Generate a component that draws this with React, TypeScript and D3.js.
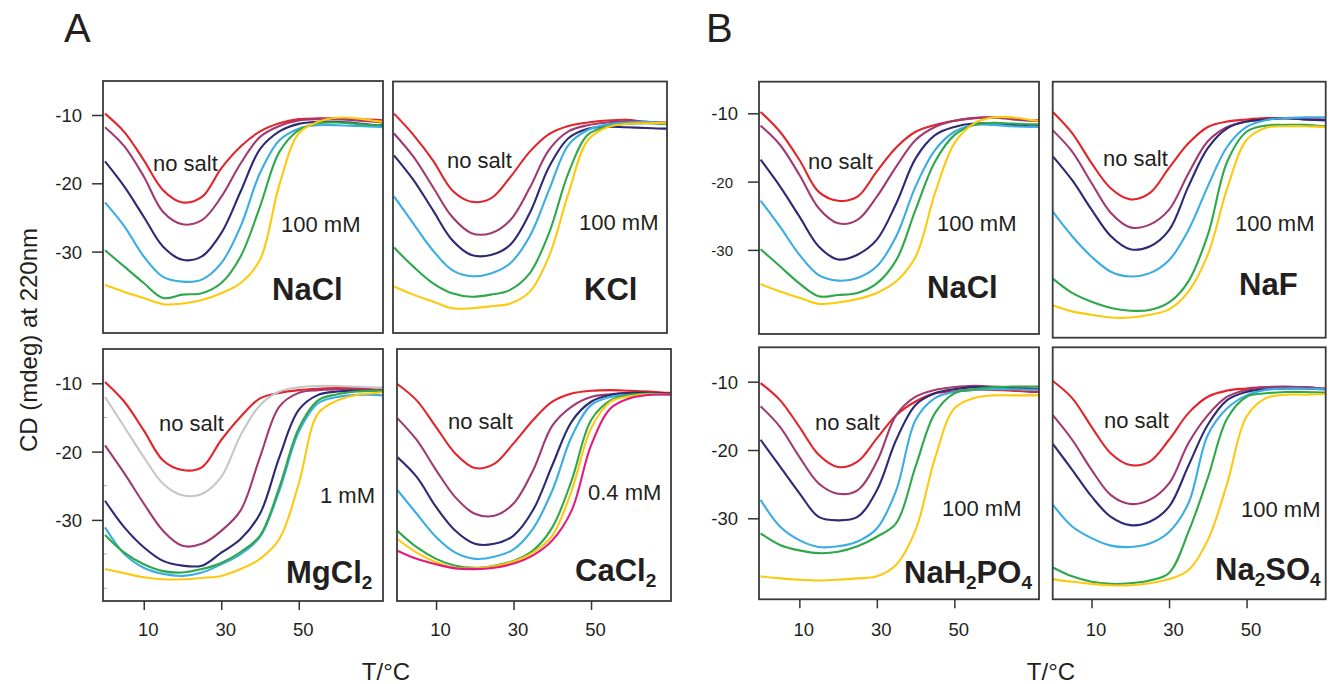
import * as d3 from "d3";
import React, { useRef, useEffect } from "react";

const mainWidth = 1330;
const mainHeight = 684;
const font = "'Liberation Sans', Arial, sans-serif";
const ink = "#231f20";

// px per degree and per mdeg, shared by all panels
const degPx = 3.875;
const unitPx = 6.83;

const temps = [0, 5, 10, 15, 20, 25, 30, 35, 40, 45, 50, 55, 60, 65, 70, 72];
const yTicks = [-10, -20, -30];
const xTicks = [10, 30, 50];
const minorTicks = [-15, -25, -35, -40];

const red = "#e2242b";
const purple = "#a23a72";
const navy = "#2d2a74";
const blue = "#3aade2";
const green = "#2ea84a";
const yellow = "#fdc90f";
const gray = "#c6c6c6";
const pink = "#e6197d";

const six = [red, purple, navy, blue, green, yellow];
const sevenMg = [red, gray, purple, navy, blue, green, yellow];
const sevenCa = [red, purple, navy, blue, green, yellow, pink];

// A: NaCl
const naclA = [
  [-9.8, -12.5, -16.6, -21, -22.8, -22, -17.8, -14.6, -12.4, -11.2, -10.6, -10.5, -10.5, -10.6, -10.7, -10.8],
  [-11.8, -14.6, -19, -24.2, -26, -25.4, -22, -17.1, -13.2, -11.6, -10.8, -10.6, -10.6, -10.8, -11, -11],
  [-16.8, -20.5, -24.9, -29.3, -31.2, -30.7, -27.3, -21.2, -15, -12.4, -11.3, -11, -11, -11.2, -11.5, -11.6],
  [-22.8, -26.3, -30.7, -33.7, -34.4, -34.1, -31.7, -26.3, -18.5, -13.7, -12, -11.5, -11.5, -11.6, -11.7, -11.8],
  [-29.8, -32.2, -34.6, -36.8, -36.3, -36.1, -34.6, -30.7, -23.4, -15.4, -12.2, -11.2, -11.1, -11.3, -11.5, -11.3],
  [-34.9, -35.9, -36.8, -37.7, -37.6, -37.1, -36.1, -34.6, -31.2, -20.2, -12.7, -11, -10.4, -10.5, -10.9, -11],
];

// A: KCl
const kclA = [
  [-9.8, -12.9, -16.6, -21, -22.7, -22.2, -19.1, -15.4, -12.8, -11.6, -11.1, -10.8, -10.7, -11, -11.2, -11.2],
  [-12.7, -16.1, -20.5, -24.9, -27.3, -27.3, -25.4, -20.7, -15.1, -12.4, -11.5, -11.1, -10.9, -11, -11.1, -11.1],
  [-15.9, -19.5, -23.9, -28.3, -30.5, -30.5, -29, -24.4, -17.6, -13.4, -12, -11.7, -11.8, -11.9, -12, -12],
  [-21.9, -25.9, -29.8, -32.7, -33.6, -33.2, -31.7, -27.8, -21, -14.4, -12.2, -11.4, -11.1, -11, -11.2, -11.2],
  [-29.4, -32.2, -34.6, -36.1, -36.6, -36.3, -35.6, -33.2, -27.3, -18.5, -12.9, -11.7, -11.3, -11.2, -11.3, -11.3],
  [-35.1, -36.3, -37.3, -38.3, -38.3, -38, -37.6, -35.9, -30.7, -21.5, -13.7, -11.8, -11.3, -11.2, -11.2, -11.3],
];

// A: MgCl2
const mgclA = [
  [-9.8, -12.7, -16.9, -21.3, -22.7, -22.3, -18.3, -14.9, -12.2, -11.4, -11, -10.8, -10.7, -10.7, -10.9, -10.9],
  [-12, -16.4, -20.8, -24.7, -26.4, -26.2, -23.7, -17.6, -13.2, -11.2, -10.6, -10.4, -10.4, -10.5, -10.6, -10.6],
  [-19.1, -23.2, -27.6, -31.6, -33.8, -33.5, -31.6, -28.6, -20.8, -13.4, -11.4, -11, -10.9, -10.9, -11, -11],
  [-27.2, -31.1, -34, -36, -36.7, -36.7, -34.8, -32.8, -29.1, -20.8, -13.9, -11.7, -11.2, -11.1, -11.1, -11.1],
  [-31.1, -35, -37, -37.9, -38.2, -37.7, -36.5, -35, -32.5, -25.7, -17.1, -12.9, -12, -11.7, -11.7, -11.8],
  [-32.2, -34.8, -36.5, -37.5, -37.7, -37.2, -36.3, -34.7, -32.3, -25.2, -16.6, -12.5, -11.6, -11.2, -11.1, -11.1],
  [-37.2, -37.8, -38.4, -38.7, -38.7, -38.5, -38.2, -37.2, -35.7, -32.8, -24.7, -14.4, -12.5, -11.7, -11.4, -11.3],
];

// A: CaCl2
const caclA = [
  [-10.1, -12.5, -16.4, -20.3, -22.4, -21.8, -18.8, -15.4, -12.7, -11.5, -11.1, -11, -11.1, -11.2, -11.4, -11.4],
  [-15.1, -18.3, -22.7, -26.7, -29.1, -29.4, -27.6, -22.8, -16.2, -13.4, -12, -11.6, -11.4, -11.4, -11.5, -11.5],
  [-20.8, -23.7, -28.1, -31.6, -33.5, -33.5, -32.3, -28.6, -22, -15.6, -12.7, -11.7, -11.4, -11.4, -11.5, -11.5],
  [-25.6, -29.1, -32.5, -34.8, -35.7, -35.4, -34.3, -31.3, -25.7, -17.8, -13.2, -12, -11.7, -11.6, -11.7, -11.8],
  [-31.6, -34, -35.7, -36.7, -37, -36.7, -36, -34.5, -31.1, -24.2, -15.4, -12.5, -11.7, -11.5, -11.6, -11.6],
  [-32.8, -34.8, -36.2, -37, -37.1, -36.8, -36.1, -34.8, -32.3, -25.7, -16.6, -12.7, -11.9, -11.6, -11.6, -11.6],
  [-34.5, -35.7, -36.5, -37.1, -37.2, -37, -36.4, -35.2, -33, -28.6, -19.1, -13.7, -12.2, -11.7, -11.6, -11.6],
];

// B: NaCl
const naclB = [
  [-9.8, -12.7, -16.8, -21.5, -22.8, -22.2, -18.5, -15, -12.7, -11.7, -11.1, -10.7, -10.6, -10.7, -11, -11],
  [-11.8, -14.6, -19, -23.9, -26.1, -25.6, -22.2, -17.8, -13.9, -12, -11.1, -10.7, -10.6, -10.9, -11.1, -11.1],
  [-16.8, -20.7, -25.1, -29.5, -31.4, -30.7, -28.5, -23.2, -16.6, -13.2, -12, -11.5, -11.5, -11.7, -11.9, -11.9],
  [-22.8, -26.6, -30.7, -33.7, -34.5, -34.1, -32.4, -28, -20.7, -15.4, -12.7, -11.7, -11.7, -11.9, -12, -12],
  [-29.9, -32.4, -34.9, -36.8, -36.6, -36.3, -34.9, -31.5, -24.1, -17.1, -13.2, -11.7, -11.4, -11.5, -11.6, -11.6],
  [-35, -36.1, -37, -37.9, -37.7, -37.2, -36.3, -34.6, -31, -21.7, -14.4, -11.5, -10.6, -10.6, -11, -11.1],
];

// B: NaF
const nafB = [
  [-9.8, -12.9, -17.3, -21, -22.6, -21.7, -18, -14.4, -12, -11.2, -10.9, -10.7, -10.7, -10.7, -10.9, -10.9],
  [-12.5, -15.6, -20.2, -24.6, -26.7, -26.3, -24.1, -18.8, -14.1, -12, -11.2, -10.9, -10.7, -10.9, -11, -11],
  [-16.3, -19.8, -24.1, -28, -29.9, -29.5, -27.1, -20.7, -15.1, -12.2, -11.2, -10.9, -10.7, -10.9, -11, -11],
  [-24.4, -28, -31, -33.2, -33.9, -33.4, -31.5, -27.1, -20.7, -14.9, -12, -11, -10.7, -10.6, -10.6, -10.6],
  [-34.2, -36.3, -37.6, -38.5, -38.9, -38.8, -37.7, -34.6, -27.8, -17.1, -12.7, -11.8, -11.7, -11.7, -11.9, -11.9],
  [-38.1, -39, -39.5, -39.9, -39.9, -39.5, -38.7, -36.1, -30.7, -21, -13.9, -12.1, -11.9, -11.9, -12, -12],
];

// B: NaH2PO4
const nah2po4B = [
  [-10.2, -12.7, -16.6, -20.7, -22.5, -21.7, -18.3, -14.9, -12.9, -11.7, -11.4, -11.2, -11.2, -11.3, -11.5, -11.5],
  [-13.6, -16.6, -21, -24.9, -26.4, -25.9, -21.7, -14.9, -12.2, -11.2, -10.8, -10.6, -10.7, -10.8, -11, -11],
  [-18.5, -22.4, -26.3, -29.8, -30.3, -29.8, -25.9, -18.5, -13.4, -11.7, -11.1, -10.8, -10.8, -11, -11.1, -11.1],
  [-27.3, -31.2, -33.2, -34.2, -34.1, -33.4, -31.5, -25.9, -15.6, -12.4, -11.5, -11.2, -11.1, -11.1, -11.2, -11.2],
  [-32.2, -33.9, -34.7, -35.1, -34.9, -34.1, -32.7, -30.7, -22.4, -14.6, -11.7, -11.1, -10.8, -10.7, -10.7, -10.7],
  [-38.5, -38.8, -39, -39.1, -39, -38.8, -38.5, -36.8, -31.7, -21.2, -13.9, -12.4, -12, -12, -12, -12],
];

// B: Na2SO4
const na2so4B = [
  [-9.9, -12.4, -16.6, -20.5, -22.2, -21.7, -18.5, -14.6, -12.2, -11.3, -11, -10.8, -10.8, -10.8, -11, -11],
  [-14.9, -18.5, -22.9, -26.6, -27.9, -27.3, -24.9, -19, -14.9, -12.2, -11.2, -10.8, -10.7, -10.8, -11, -11],
  [-19.1, -22.9, -26.8, -29.8, -31, -30.5, -28.3, -22.3, -16.3, -12.7, -11.5, -11.1, -11, -11, -11.1, -11.1],
  [-28, -31.2, -32.9, -34, -34.2, -33.7, -32, -27.8, -17.8, -13.9, -12, -11.2, -11, -11, -11.1, -11.1],
  [-37.2, -38.5, -39.3, -39.6, -39.5, -39.1, -38, -32, -24.1, -15.4, -12.2, -11.7, -11.5, -11.5, -11.6, -11.6],
  [-38.9, -39.3, -39.6, -39.8, -39.8, -39.5, -38.9, -37.6, -33.2, -24.9, -15.1, -12.4, -11.9, -11.9, -11.8, -11.8],
];

// layout of the eight boxes
const panels = [
  { data: naclA, colors: six, name: "NaCl", conc: "100 mM", left: 103, top: 81, width: 280, height: 252, x0: 105, y10: 115, yAxis: true, xAxis: false, noSaltAt: [153, 171], concAt: [281, 232], nameAt: [272, 300] },
  { data: kclA, colors: six, name: "KCl", conc: "100 mM", left: 393, top: 81.5, width: 274, height: 251.5, x0: 394, y10: 115, yAxis: false, xAxis: false, noSaltAt: [447, 168], concAt: [579, 230], nameAt: [584, 300] },
  { data: mgclA, colors: sevenMg, name: "MgCl2", conc: "1 mM", left: 103, top: 349, width: 280, height: 252, x0: 105, y10: 383.3, yAxis: true, xAxis: true, minor: true, noSaltAt: [159, 431], concAt: [320, 503], nameAt: [286, 583] },
  { data: caclA, colors: sevenCa, name: "CaCl2", conc: "0.4 mM", left: 397, top: 349, width: 274, height: 252, x0: 397.3, y10: 383.3, yAxis: false, xAxis: true, noSaltAt: [448, 429], concAt: [588, 500], nameAt: [575, 581] },
  { data: naclB, colors: six, name: "NaCl", conc: "100 mM", left: 759, top: 81.7, width: 280, height: 252.3, x0: 760.6, y10: 113.3, yAxis: true, xAxis: false, smallTicks: true, noSaltAt: [808, 169], concAt: [937, 231], nameAt: [927, 298] },
  { data: nafB, colors: six, name: "NaF", conc: "100 mM", left: 1052.7, top: 81.7, width: 273, height: 256, x0: 1052.8, y10: 113.3, yAxis: false, xAxis: false, noSaltAt: [1103, 166], concAt: [1235, 231], nameAt: [1239, 295] },
  { data: nah2po4B, colors: six, name: "NaH2PO4", conc: "100 mM", left: 759, top: 347.3, width: 280, height: 252, x0: 760.6, y10: 381.7, yAxis: true, xAxis: true, noSaltAt: [815, 430], concAt: [942, 516], nameAt: [904, 583] },
  { data: na2so4B, colors: six, name: "Na2SO4", conc: "100 mM", left: 1052.7, top: 347.3, width: 273, height: 252, x0: 1052.8, y10: 381.7, yAxis: false, xAxis: true, noSaltAt: [1104, 428], concAt: [1241, 517], nameAt: [1215, 580] },
];

function SaltPanels() {
  const ref = useRef<SVGSVGElement>(null);

  useEffect(() => {
    document.body.style.margin = "0";
    const svg = d3.select(ref.current);
    svg.selectAll("*").remove();
    svg
      .attr("width", mainWidth)
      .attr("height", mainHeight)
      .style("display", "block")
      .style("background", "#fff")
      .style("font-family", font);

    const defs = svg.append("defs");

    panels.forEach((p, pi) => {
      const x = d3.scaleLinear().domain([0, 70]).range([p.x0, p.x0 + 70 * degPx]);
      const y = d3.scaleLinear().domain([-10, -30]).range([p.y10, p.y10 + 20 * unitPx]);
      const bottom = p.top + p.height;

      const clipId = `clip-${pi}`;
      defs
        .append("clipPath")
        .attr("id", clipId)
        .append("rect")
        .attr("x", p.left)
        .attr("y", p.top)
        .attr("width", p.width)
        .attr("height", p.height);

      const g = svg.append("g").attr("class", "panel");

      const line = d3
        .line<number>()
        .x((_, i) => x(temps[i]))
        .y((d) => y(d))
        .curve(d3.curveCatmullRom.alpha(0.5));

      g.append("g")
        .attr("clip-path", `url(#${clipId})`)
        .selectAll("path")
        .data(p.data)
        .join("path")
        .attr("d", (d) => line(d))
        .attr("fill", "none")
        .attr("stroke", (_, i) => p.colors[i])
        .attr("stroke-width", 2.1)
        .attr("stroke-linejoin", "round");

      // frame
      g.append("rect")
        .attr("x", p.left)
        .attr("y", p.top)
        .attr("width", p.width)
        .attr("height", p.height)
        .attr("fill", "none")
        .attr("stroke", "#3a3a3a")
        .attr("stroke-width", 1.8);

      if (p.yAxis) {
        const ax = g
          .append("g")
          .attr("transform", `translate(${p.left},0)`)
          .call(
            d3
              .axisLeft(y)
              .tickValues(yTicks)
              .tickSize(11)
              .tickPadding(10)
              .tickFormat((d) => String(d))
          );
        ax.select(".domain").remove();
        ax.selectAll("line").attr("stroke", "#333").attr("stroke-width", 1.5);
        ax.selectAll("text")
          .attr("fill", ink)
          .attr("font-family", font)
          .attr("font-size", (d) => (p.smallTicks && d !== -10 ? 15 : 18.5))
          .attr("x", (d) => (p.smallTicks && d !== -10 ? -26 : -21))
          .attr("dy", "0.36em");
      }

      if (p.minor) {
        g.append("g")
          .selectAll("line")
          .data(minorTicks)
          .join("line")
          .attr("x1", p.left + 1)
          .attr("x2", p.left + 4)
          .attr("y1", (d) => y(d))
          .attr("y2", (d) => y(d))
          .attr("stroke", "#aaa")
          .attr("stroke-width", 1);
      }

      if (p.xAxis) {
        const fs = 18.5;
        const ax = g
          .append("g")
          .attr("transform", `translate(0,${bottom})`)
          .call(
            d3
              .axisBottom(x)
              .tickValues(xTicks)
              .tickSize(9)
              .tickPadding(636 - bottom - 9 - 0.71 * fs)
              .tickFormat((d) => String(d))
          );
        ax.select(".domain").remove();
        ax.selectAll("line").attr("stroke", "#333").attr("stroke-width", 1.5);
        ax.selectAll("text")
          .attr("fill", ink)
          .attr("font-family", font)
          .attr("font-size", fs)
          .attr("dx", 4);
      }

      // annotations
      g.append("text")
        .attr("x", p.noSaltAt[0])
        .attr("y", p.noSaltAt[1])
        .attr("font-size", 22)
        .attr("fill", ink)
        .text("no salt");

      g.append("text")
        .attr("x", p.concAt[0])
        .attr("y", p.concAt[1])
        .attr("font-size", 22)
        .attr("fill", ink)
        .text(p.conc);

      const parts = p.name.match(/[A-Za-z]+|\d+/g) || [];
      const nameText = g
        .append("text")
        .attr("x", p.nameAt[0])
        .attr("y", p.nameAt[1])
        .attr("font-size", 31)
        .attr("font-weight", "bold")
        .attr("fill", ink);
      let shifted = false;
      parts.forEach((part) => {
        const isSub = /\d/.test(part);
        const dy = isSub ? 6 : shifted ? -6 : 0;
        nameText
          .append("tspan")
          .attr("dy", dy)
          .attr("font-size", isSub ? 19 : 31)
          .text(part);
        shifted = isSub;
      });
    });

    // group letters
    svg.selectAll(".letter")
      .data([
        ["A", 64],
        ["B", 706],
      ])
      .join("text")
      .attr("class", "letter")
      .attr("x", (d) => d[1])
      .attr("y", 42)
      .attr("font-size", 40)
      .attr("fill", ink)
      .text((d) => d[0]);

    // x titles
    svg.selectAll(".xtitle")
      .data([386, 1051])
      .join("text")
      .attr("class", "xtitle")
      .attr("x", (d) => d)
      .attr("y", 680)
      .attr("text-anchor", "middle")
      .attr("font-size", 24)
      .attr("fill", ink)
      .text("T/°C");

    // y title
    svg.append("text")
      .attr("transform", "translate(37,340) rotate(-90)")
      .attr("text-anchor", "middle")
      .attr("font-size", 24)
      .attr("fill", ink)
      .text("CD (mdeg) at 220nm");
  }, []);

  return <svg ref={ref}></svg>;
}

export default function App() {
  return <SaltPanels />;
}
